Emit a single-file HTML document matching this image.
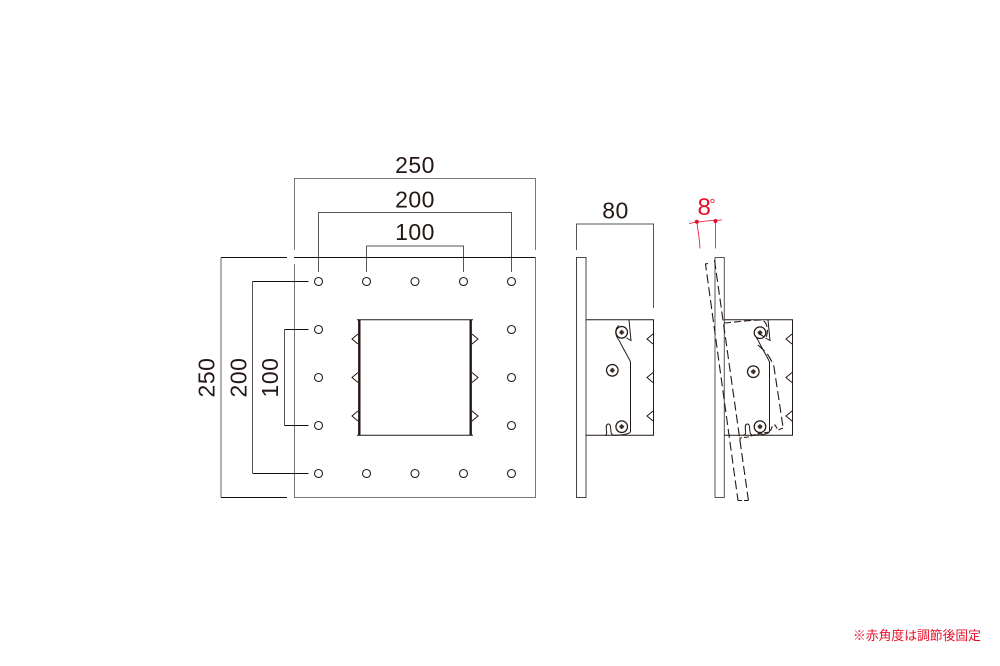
<!DOCTYPE html>
<html><head><meta charset="utf-8"><style>
html,body{margin:0;padding:0;background:#fff;width:1000px;height:666px;overflow:hidden}
svg{display:block}
text{font-family:"Liberation Sans","Noto Sans CJK JP",sans-serif}
.d{font-size:23px;fill:#231815;letter-spacing:.5px;text-anchor:middle}
</style></head><body>
<svg width="1000" height="666" viewBox="0 0 1000 666" xmlns="http://www.w3.org/2000/svg">
<defs>
<g id="s"><circle r="5.8" fill="#fff" stroke="#231815" stroke-width="1.2"/><circle r="2.2" fill="#5a4a45"/><path d="M-2.6 0H2.6M0-2.6V2.6" stroke="#231815" stroke-width=".7"/></g>
<path id="t" d="M6 -5L0 0L6 5" fill="none" stroke="#231815" stroke-width="1"/>
<path id="tr" d="M0 -5L6 0L0 5" fill="none" stroke="#231815" stroke-width="1"/>
</defs>
<g fill="none" stroke="#777" stroke-width="1">
<path d="M294.5 250V178.5H535.5V250"/>
<path d="M318.5 272V212.5H511.5V272" stroke="#555"/>
<path d="M366.5 272V246H463.5V272" stroke="#555"/>
<path d="M294.5 264V497.5H535.5V257.5"/>
<path d="M221 497.5V257.5" stroke="#666"/>
<path d="M252.5 473V281.5" stroke="#555"/>
<path d="M284.5 425.5V329.5" stroke="#555"/>
<path d="M576.5 250V224H653.5V308" stroke="#555"/>
</g>
<g fill="none" stroke="#111" stroke-width="1">
<path d="M221 257.5H287M294 257.5H535.5"/>
<path d="M221 497.5H287"/>
<path d="M252.5 281.5H308.5M252.5 473.5H308.5M284.5 329.5H308.5M284.5 425.5H308.5"/>
</g>
<g fill="#fff" stroke="#231815" stroke-width="1.1">
<circle cx="318.5" cy="281.5" r="4"/><circle cx="366.5" cy="281.5" r="4"/><circle cx="415" cy="281.5" r="4"/><circle cx="463.5" cy="281.5" r="4"/><circle cx="511.5" cy="281.5" r="4"/>
<circle cx="318.5" cy="329.5" r="4"/><circle cx="511.5" cy="329.5" r="4"/>
<circle cx="318.5" cy="377.5" r="4"/><circle cx="511.5" cy="377.5" r="4"/>
<circle cx="318.5" cy="425.5" r="4"/><circle cx="511.5" cy="425.5" r="4"/>
<circle cx="318.5" cy="473.5" r="4"/><circle cx="366.5" cy="473.5" r="4"/><circle cx="415" cy="473.5" r="4"/><circle cx="463.5" cy="473.5" r="4"/><circle cx="511.5" cy="473.5" r="4"/>
</g>
<path d="M357 319.7H473M357 435.3H473" stroke="#231815" stroke-width="1" fill="none"/>
<path d="M359.3 319.5V435.5M470.7 319.5V435.5" stroke="#231815" stroke-width="2.4" fill="none"/>
<use href="#t" x="352" y="339"/><use href="#t" x="352" y="377.5"/><use href="#t" x="352" y="416"/>
<use href="#tr" x="472" y="339"/><use href="#tr" x="472" y="377.5"/><use href="#tr" x="472" y="416"/>
<g fill="none" stroke="#231815" stroke-width="1">
<rect x="576.5" y="257.5" width="9.5" height="240" stroke="#444"/>
<path d="M586 319.7H653.5V435.3H605"/>
<path d="M586 435.3H604.5C606.5 435.3 607 434 606.5 431C606 427 606 424.5 608 424C610.5 423.6 610.5 426.5 610.8 430C611 434 612 435.5 615 435.3C622 435 630 434 630.5 431.5V362C629 358 624 350 622 346C620.5 343 619 340 617.5 338"/>
<path d="M629 320L631 340.5L626.5 338"/>
<path d="M617.5 338C615 334 615 328 619 325.5"/>
<rect x="715" y="257.5" width="9.3" height="240" stroke="#555"/>
<path d="M724.3 319.7H792.5V435.3H724.3"/>
<path d="M768 320L770 340.5L765.5 338"/>
<path d="M743 435.3C745 435 746 434 745.5 431C745 427 745 424.5 747 424C749.5 423.6 749.5 426.5 749.8 430C750 434 751 435.3 754 435.3C761 435 769 434 769.5 431.5V362C768 358 763 350 761 346C759.5 343 758 340 756.5 338"/>
</g>
<use href="#s" x="621.7" y="332.3"/><use href="#s" x="612.3" y="370.3"/><use href="#s" x="621.7" y="426.7"/>
<use href="#s" x="760" y="332.7"/><use href="#s" x="753.3" y="371.7"/><use href="#s" x="760" y="426.7"/>
<use href="#t" x="647" y="339"/><use href="#t" x="647" y="377.5"/><use href="#t" x="647" y="416"/>
<use href="#t" x="786" y="339"/><use href="#t" x="786" y="377.5"/><use href="#t" x="786" y="416"/>
<g fill="none" stroke="#231815" stroke-width="1.1" stroke-dasharray="7 4">
<path d="M708 263.5L705.5 264L738 500.5" stroke-dasharray="9 4"/>
<path d="M714.5 260L748.5 501" stroke-dasharray="9 4"/>
<path d="M738 500.5H749" stroke-dasharray="4 2"/>
<path d="M724 323C737 322 750 320 762 320C767 322 769 330 766 338L758 333" stroke-dasharray="7 3"/>
<path d="M758 345L766.7 353C770 358 773 363 774 367L783 427" stroke-dasharray="9 4"/>
<path d="M783 428L778 430L775 425L772 427L770 432L763 433L757 434L748 437L740 438V442" stroke-dasharray="5 2"/>
</g>
<text class="d" x="415" y="173">250</text>
<text class="d" x="415" y="207.5">200</text>
<text class="d" x="415" y="240">100</text>
<text class="d" x="615.5" y="218.5">80</text>
<text class="d" transform="translate(214.5 377.5) rotate(-90)">250</text>
<text class="d" transform="translate(246.5 377.5) rotate(-90)">200</text>
<text class="d" transform="translate(278 377.5) rotate(-90)">100</text>
<g fill="none" stroke="#e60f2a" stroke-width=".8">
<path d="M689 223.5Q705 220.5 722 220"/>
<path d="M696.8 222C698 230 699.5 238 700 248.5"/>
<path d="M715.5 221V248.5"/>
</g>
<circle cx="696.8" cy="221.8" r="2" fill="#e60f2a"/><circle cx="715.5" cy="221" r="2" fill="#e60f2a"/>
<text x="697.5" y="215" font-size="24" fill="#e60f2a">8</text>
<text x="709.5" y="209" font-size="15" fill="#e60f2a">°</text>
<text x="853" y="640" font-size="12.8" fill="#e60f2a">※赤角度は調節後固定</text>
</svg>
</body></html>
